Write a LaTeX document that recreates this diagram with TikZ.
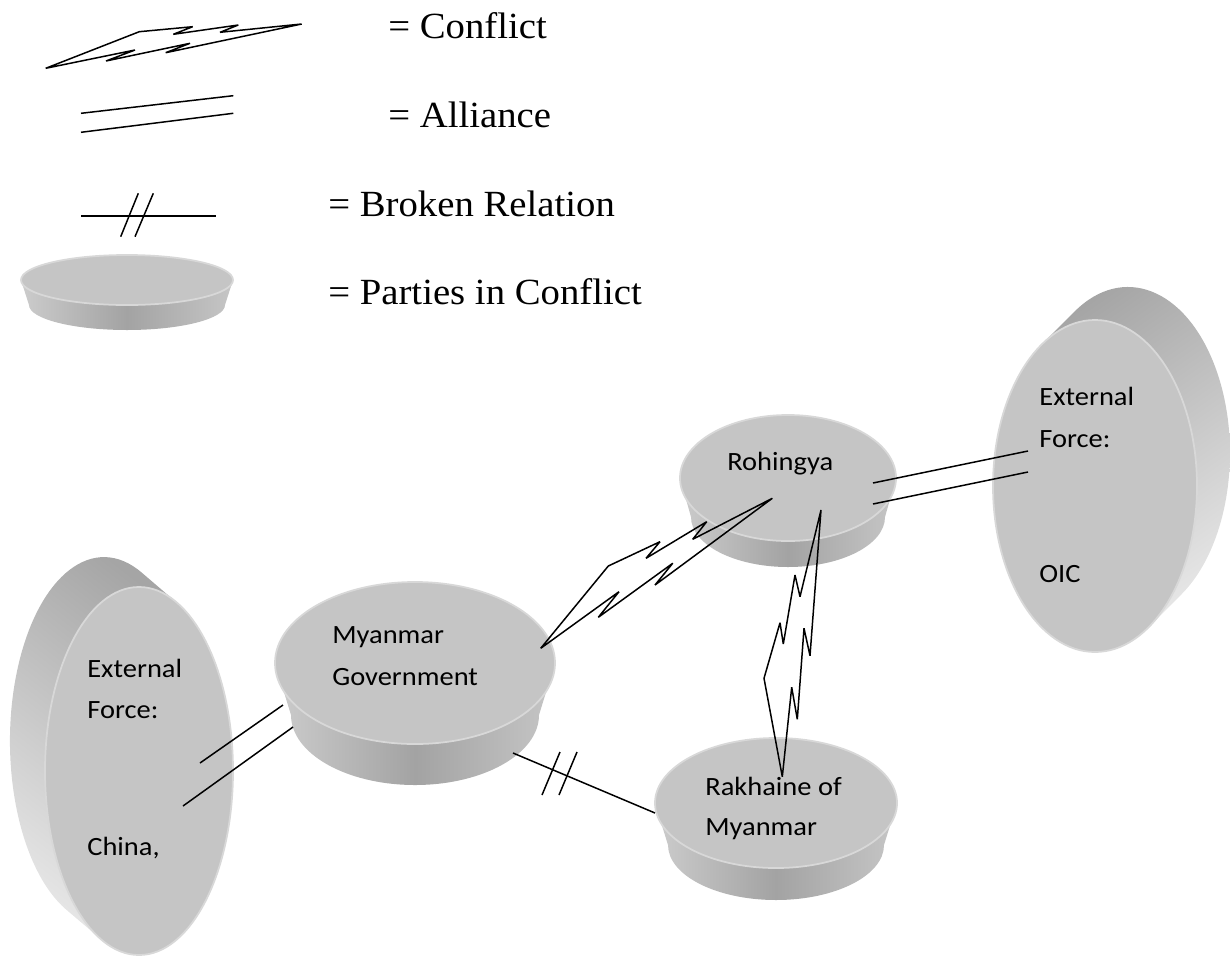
\documentclass[tikz,border=0pt]{standalone}
\usepackage{fontspec}
\setmainfont{Liberation Serif}[FakeStretch=1.05]
\newfontfamily\lblfont{Carlito}[FakeStretch=1.08]
\usetikzlibrary{calc}
\definecolor{faceC}{RGB}{197,197,197}
\definecolor{rimC}{RGB}{216,216,216}
\definecolor{sideL}{RGB}{204,204,204}
\definecolor{sideM}{RGB}{163,163,163}
\definecolor{sideR}{RGB}{198,198,198}
\definecolor{sideLight}{RGB}{230,230,230}
\definecolor{sideDark}{RGB}{165,165,165}
\newcommand\hdisk[7]{%
  \shade[left color=sideL, right color=sideR, middle color=sideM]
    (#1-#3,#2) -- (#1-#6,#2+#5) arc[start angle=180, end angle=0, x radius=#6, y radius=#7] -- (#1+#3,#2) -- cycle;
  \path[face] (#1,#2) ellipse[x radius=#3, y radius=#4];}
\begin{document}
\begin{tikzpicture}[x=0.02cm,y=-0.02cm,
  conn/.style={line width=0.85pt, black, line join=miter, miter limit=3},
  face/.style={fill=faceC, draw=rimC, line width=1pt},
  lbl/.style={anchor=base west, inner sep=0pt, font=\lblfont\fontsize{15}{18}\selectfont},
  leg/.style={anchor=base west, inner sep=0pt, font=\fontsize{21}{25}\selectfont}]
\useasboundingbox (0,0) rectangle (1230,957);

% ---------- disks ----------
% legend disk
\hdisk{127}{280}{106}{25}{25}{98}{25}
% Myanmar Government
\hdisk{415}{663}{140}{81}{52}{124}{70}
\coordinate (gov) at (415,663);
% Rohingya
\hdisk{788}{478}{108}{63}{39}{97}{50}
\coordinate (roh) at (788,478);
% Rakhaine
\hdisk{776}{803}{121}{65}{42}{108}{55}
\coordinate (rak) at (776,803);
% China (vertical disk, depth to upper left)
\shade[top color=sideDark, bottom color=sideLight, shading angle=-38]
  ($(104,741)+(37.6,-168.5)$) arc[start angle=-66.4, end angle=-246.4, x radius=94, y radius=184]
  -- ($(139,771)+(-37.6,168.5)$) -- ($(139,771)+(37.6,-168.5)$) -- cycle;
\path[face] (139,771) ellipse[x radius=94, y radius=184];
\coordinate (chn) at (139,771);
% OIC (vertical disk, depth to upper right)
\shade[top color=sideDark, bottom color=sideLight, shading angle=35]
  ($(1128,453)+(-53.5,-141.4)$) arc[start angle=238.4, end angle=418.4, x radius=102, y radius=166]
  -- ($(1095,486)+(53.5,141.4)$) -- ($(1095,486)+(-53.5,-141.4)$) -- cycle;
\path[face] (1095,486) ellipse[x radius=102, y radius=166];
\coordinate (oic) at (1095,486);

% ---------- legend symbols ----------
\coordinate (lcK) at (45.7,68.3);
\coordinate (lcF) at (301.7,24);
\draw[conn] (lcK) -- (139.3,31.7) -- (192.7,26.7) -- (173.3,34.3) -- (238.3,25) -- (220,32.3) -- (lcF)
  -- (165.7,52.7) -- (190,43.3) -- (106,61) -- (135,50) -- cycle;
\coordinate (la1) at (81,113.3);   \coordinate (la2) at (233.3,95.7);
\coordinate (lb1) at (81,132.3);   \coordinate (lb2) at (233.3,113.3);
\draw[conn] (la1) -- (la2);
\draw[conn] (lb1) -- (lb2);
\coordinate (lr1) at (81,216);     \coordinate (lr2) at (216,216);
\draw[conn] (lr1) -- (lr2);
\coordinate (ls1a) at (120.7,236.7); \coordinate (ls1b) at (138.3,193.3);
\coordinate (ls2a) at (135,236.7);   \coordinate (ls2b) at (153.3,193.3);
\draw[conn] (ls1a) -- (ls1b);
\draw[conn] (ls2a) -- (ls2b);

\node[leg] (tconf) at (388,38) {= Conflict};
\node[leg] (tall) at (388,127) {= Alliance};
\node[leg] (tbrk) at (328,216) {= Broken Relation};
\node[leg] (tpar) at (328,304) {= Parties in Conflict};

% ---------- connectors ----------
% alliance China - Government
\coordinate (cg1a) at (200,763); \coordinate (cg1b) at (283,705);
\coordinate (cg2a) at (183,806); \coordinate (cg2b) at (293,727);
\draw[conn] (cg1a) -- (cg1b);
\draw[conn] (cg2a) -- (cg2b);
% alliance Rohingya - OIC
\coordinate (ro1a) at (873,483); \coordinate (ro1b) at (1028,451);
\coordinate (ro2a) at (873,504); \coordinate (ro2b) at (1028,472);
\draw[conn] (ro1a) -- (ro1b);
\draw[conn] (ro2a) -- (ro2b);
% broken relation Government - Rakhaine
\coordinate (gr1) at (513,753); \coordinate (gr2) at (655,813);
\draw[conn] (gr1) -- (gr2);
\draw[conn] (542,795) -- (560,752);
\draw[conn] (559,795) -- (577,752);
% conflict Government - Rohingya
\coordinate (grK) at (540.7,648.3);
\coordinate (grF) at (772.3,498.3);
\draw[conn] (grK) -- (608.3,566) -- (660,541.7) -- (646,558.3) -- (706.7,521.7) -- (692.7,539.3) -- (grF)
  -- (655,585) -- (672.7,563.3) -- (598.3,617.3) -- (619,591.7) -- cycle;
% conflict Rohingya - Rakhaine
\coordinate (rrF) at (821,510);
\coordinate (rrK) at (782.3,776.7);
\draw[conn] (rrK) -- (764,678.3) -- (780,622.7) -- (783.3,644) -- (795,575) -- (800,596.7) -- (rrF)
  -- (810,655.7) -- (804,628.3) -- (797.3,719.3) -- (791.7,687.3) -- cycle;

% ---------- labels ----------
\node[lbl] (g1) at (332,643) {Myanmar};
\node[lbl] (g2) at (332,685) {Government};
\node[lbl] (r1) at (727,470) {Rohingya};
\node[lbl] (k1) at (705,795) {Rakhaine of};
\node[lbl] (k2) at (705,835) {Myanmar};
\node[lbl] (c1) at (87,677) {External};
\node[lbl] (c2) at (87,718) {Force:};
\node[lbl] (c3) at (87,855) {China,};
\node[lbl] (o1) at (1039,405) {External};
\node[lbl] (o2) at (1039,447) {Force:};
\node[lbl] (o3) at (1039,582) {OIC};
\end{tikzpicture}
\end{document}
